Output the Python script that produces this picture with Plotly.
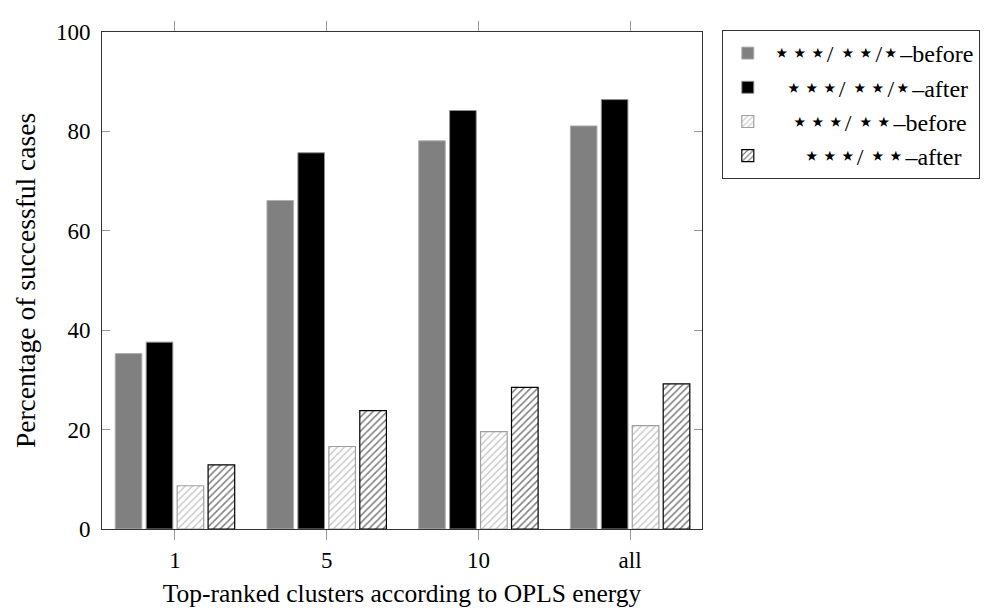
import plotly.graph_objects as go

categories = ["1", "5", "10", "all"]
all_before = [35.3, 66.1, 78.1, 81.1]
all_after = [37.6, 75.7, 84.2, 86.4]
top2_before = [8.7, 16.6, 19.6, 20.8]
top2_after = [12.9, 23.8, 28.5, 29.2]

S = '<span style="font-size:28px">\u22c6</span>'
NB = "\u00a0"
names = [
    f"{S}{S}{S}/ {S}{S}/{S}\u2013before",
    f"{NB*2}{S}{S}{S}/ {S}{S}/{S}\u2013after",
    f"{NB*3}{S}{S}{S}/ {S}{S}\u2013before",
    f"{NB*5}{S}{S}{S}/ {S}{S}\u2013after",
]

FONT = "Liberation Serif"

fig = go.Figure()
fig.add_trace(go.Bar(x=categories, y=all_before, name=names[0], legendgroup="a",
                     marker=dict(color="#808080", line=dict(color="#b0b0b0", width=1))))
fig.add_trace(go.Bar(x=categories, y=all_after, name=names[1], legendgroup="b",
                     marker=dict(color="#000000", line=dict(color="#909090", width=1))))
fig.add_trace(go.Bar(x=categories, y=top2_before, name=names[2], legendgroup="c",
                     marker=dict(color="white", line=dict(color="#a0a0a0", width=1.2),
                                 pattern=dict(shape="/", fgcolor="#999999", bgcolor="white",
                                              size=5, solidity=0.3))))
fig.add_trace(go.Bar(x=categories, y=top2_after, name=names[3], legendgroup="d",
                     marker=dict(color="white", line=dict(color="#000000", width=1.2),
                                 pattern=dict(shape="/", fgcolor="#000000", bgcolor="white",
                                              size=5, solidity=0.3))))

fig.update_layout(
    width=992, height=608,
    margin=dict(l=94, r=298, t=19, b=87),
    paper_bgcolor="white", plot_bgcolor="white",
    barmode="group", bargap=0.184, bargroupgap=0.14,
    font=dict(family=FONT, size=19, color="black"),
    showlegend=True,
    legend=dict(x=1.033, y=1.004, xanchor="left", yanchor="top",
                bordercolor="#333333", borderwidth=1,
                font=dict(family=FONT, size=24, color="black"),
                traceorder="grouped", tracegroupgap=0,
                itemwidth=40),
    xaxis=dict(type="category", range=[-0.481, 3.474],
               showline=True, linecolor="#333333", linewidth=1, mirror="ticks",
               ticks="outside", ticklen=10, tickcolor="#999999",
               tickfont=dict(family=FONT, size=23),
               title=dict(text="Top-ranked clusters according to OPLS energy",
                          font=dict(family=FONT, size=25.5), standoff=12),
               showgrid=False, zeroline=False),
    yaxis=dict(range=[0, 100], tickvals=[0, 20, 40, 60, 80, 100],
               showline=True, linecolor="#333333", linewidth=1, mirror="ticks",
               ticks="inside", ticklen=8, tickcolor="#999999",
               tickfont=dict(family=FONT, size=23), ticklabelstandoff=6,
               title=dict(text="Percentage of successful cases",
                          font=dict(family=FONT, size=27.5), standoff=12),
               showgrid=False, zeroline=False),
)

fig.write_html("out.html")
